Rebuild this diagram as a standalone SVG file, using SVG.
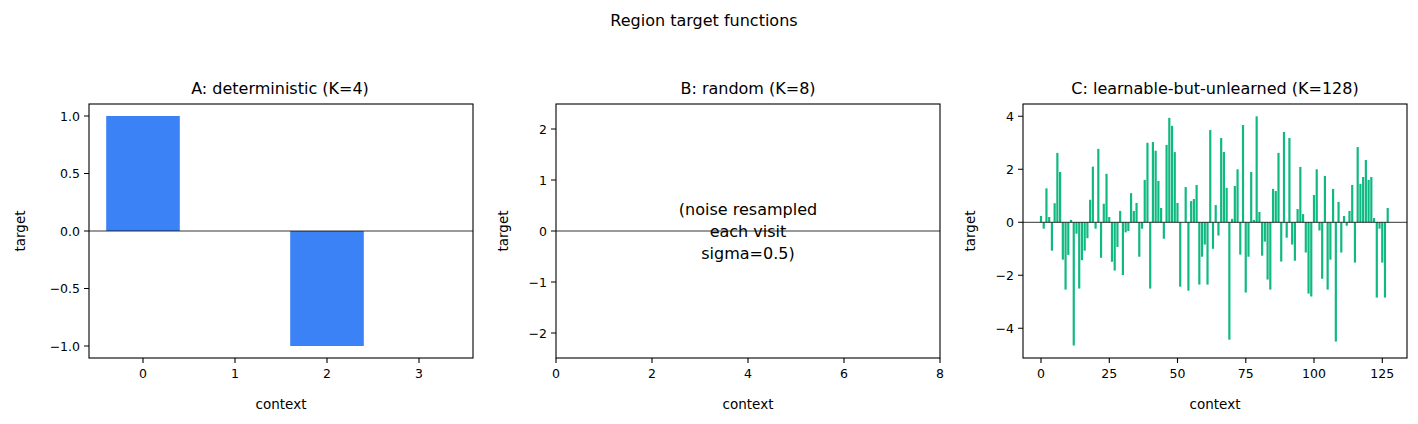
<svg xmlns="http://www.w3.org/2000/svg" width="1418" height="424" viewBox="0 0 1418 424">
<style>
text{font-family:"DejaVu Sans",sans-serif;fill:#000}
.t{font-size:16px;text-anchor:middle}
.k{font-size:12.5px}
.kx{text-anchor:middle}
.ky{text-anchor:end}
.l{font-size:13.5px;text-anchor:middle}
.ax{fill:none;stroke:#000;stroke-width:1.1}
.tk{stroke:#000;stroke-width:1.1}
.z{stroke:#000;stroke-width:0.8}
.a{fill:#3b82f6}
.c rect{fill:#10b981}
</style>
<rect width="1418" height="424" fill="#fff"/>
<text class="t" x="704" y="26">Region target functions</text>

<g id="panelA">
<text class="t" x="280" y="94">A: deterministic (K=4)</text>
<rect class="a" x="106.2" y="116" width="73.6" height="115"/>
<rect class="a" x="290.2" y="231" width="73.6" height="115"/>
<line class="z" x1="89" y1="231" x2="473" y2="231"/>
<rect class="ax" x="89" y="104" width="384" height="254"/>
<g class="tk"><path d="M143 358v5M235 358v5M327 358v5M419 358v5M89 116h-5M89 173.5h-5M89 231h-5M89 288.5h-5M89 346h-5"/></g>
<g class="k kx"><text x="143" y="378">0</text><text x="235" y="378">1</text><text x="327" y="378">2</text><text x="419" y="378">3</text></g>
<g class="k ky"><text x="80" y="120.5">1.0</text><text x="80" y="178">0.5</text><text x="80" y="235.5">0.0</text><text x="80" y="293">−0.5</text><text x="80" y="350.5">−1.0</text></g>
<text class="l" x="281" y="409">context</text>
<text class="l" transform="translate(25,231) rotate(-90)">target</text>
</g>

<g id="panelB">
<text class="t" x="748" y="94">B: random (K=8)</text>
<line class="z" x1="556" y1="231" x2="940" y2="231"/>
<rect class="ax" x="556" y="104" width="384" height="254"/>
<g class="tk"><path d="M556 358v5M652 358v5M748 358v5M844 358v5M940 358v5M556 129h-5M556 180h-5M556 231h-5M556 282h-5M556 333h-5"/></g>
<g class="k kx"><text x="556" y="378">0</text><text x="652" y="378">2</text><text x="748" y="378">4</text><text x="844" y="378">6</text><text x="940" y="378">8</text></g>
<g class="k ky"><text x="547" y="133.5">2</text><text x="547" y="184.5">1</text><text x="547" y="235.5">0</text><text x="547" y="286.5">−1</text><text x="547" y="337.5">−2</text></g>
<g class="t"><text x="748" y="215">(noise resampled</text><text x="748" y="237">each visit</text><text x="748" y="259">sigma=0.5)</text></g>
<text class="l" x="748" y="409">context</text>
<text class="l" transform="translate(508,231) rotate(-90)">target</text>
</g>

<g id="panelC">
<text class="t" x="1215" y="94">C: learnable-but-unlearned (K=128)</text>
<g class="c" transform="translate(1039.9,222.3) scale(2.73,-26.5)">
<rect x="0" y="0" width="0.8" height="0.24"/><rect x="1" y="-0.24" width="0.8" height="0.24"/><rect x="2" y="0" width="0.8" height="1.28"/><rect x="3" y="0" width="0.8" height="0.2"/><rect x="4" y="-1.07" width="0.8" height="1.07"/><rect x="5" y="0" width="0.8" height="0.72"/><rect x="6" y="0" width="0.8" height="2.62"/><rect x="7" y="0" width="0.8" height="1.9"/><rect x="8" y="-1.41" width="0.8" height="1.41"/><rect x="9" y="-2.54" width="0.8" height="2.54"/>
<rect x="10" y="-1.23" width="0.8" height="1.23"/><rect x="11" y="0" width="0.8" height="0.09"/><rect x="12" y="-4.65" width="0.8" height="4.65"/><rect x="13" y="-0.43" width="0.8" height="0.43"/><rect x="14" y="-2.5" width="0.8" height="2.5"/><rect x="15" y="-1.43" width="0.8" height="1.43"/><rect x="16" y="-1.07" width="0.8" height="1.07"/><rect x="17" y="-0.6" width="0.8" height="0.6"/><rect x="18" y="0" width="0.8" height="0.85"/><rect x="19" y="0" width="0.8" height="2.1"/>
<rect x="20" y="-0.24" width="0.8" height="0.24"/><rect x="21" y="0" width="0.8" height="2.77"/><rect x="22" y="-1.34" width="0.8" height="1.34"/><rect x="23" y="0" width="0.8" height="0.7"/><rect x="24" y="0" width="0.8" height="1.83"/><rect x="25" y="0" width="0.8" height="0.2"/><rect x="26" y="-1.49" width="0.8" height="1.49"/><rect x="27" y="-1.82" width="0.8" height="1.82"/><rect x="28" y="-0.93" width="0.8" height="0.93"/><rect x="29" y="0" width="0.8" height="0.43"/>
<rect x="30" y="-1.99" width="0.8" height="1.99"/><rect x="31" y="-0.38" width="0.8" height="0.38"/><rect x="32" y="-0.33" width="0.8" height="0.33"/><rect x="33" y="0" width="0.8" height="1.1"/><rect x="34" y="0" width="0.8" height="0.43"/><rect x="35" y="0" width="0.8" height="0.73"/><rect x="36" y="-1.3" width="0.8" height="1.3"/><rect x="37" y="-0.24" width="0.8" height="0.24"/><rect x="38" y="0" width="0.8" height="1.6"/><rect x="39" y="0" width="0.8" height="3.0"/>
<rect x="40" y="-2.5" width="0.8" height="2.5"/><rect x="41" y="0" width="0.8" height="3.03"/><rect x="42" y="0" width="0.8" height="2.7"/><rect x="43" y="0" width="0.8" height="1.56"/><rect x="44" y="0" width="0.8" height="0.54"/><rect x="45" y="-0.62" width="0.8" height="0.62"/><rect x="46" y="0" width="0.8" height="2.92"/><rect x="47" y="0" width="0.8" height="3.94"/><rect x="48" y="0" width="0.8" height="3.64"/><rect x="49" y="0" width="0.8" height="2.65"/>
<rect x="50" y="0" width="0.8" height="0.73"/><rect x="51" y="-2.43" width="0.8" height="2.43"/><rect x="53" y="0" width="0.8" height="1.33"/><rect x="54" y="-2.58" width="0.8" height="2.58"/><rect x="55" y="0" width="0.8" height="0.8"/><rect x="56" y="0" width="0.8" height="0.88"/><rect x="57" y="0" width="0.8" height="1.41"/><rect x="58" y="-2.35" width="0.8" height="2.35"/><rect x="59" y="-1.3" width="0.8" height="1.3"/>
<rect x="60" y="-0.84" width="0.8" height="0.84"/><rect x="61" y="-2.35" width="0.8" height="2.35"/><rect x="62" y="0" width="0.8" height="3.48"/><rect x="63" y="-1.0" width="0.8" height="1.0"/><rect x="64" y="0" width="0.8" height="0.65"/><rect x="65" y="-0.5" width="0.8" height="0.5"/><rect x="66" y="0" width="0.8" height="3.18"/><rect x="67" y="0" width="0.8" height="2.65"/><rect x="68" y="0" width="0.8" height="1.3"/><rect x="69" y="-4.43" width="0.8" height="4.43"/>
<rect x="70" y="0" width="0.8" height="0.13"/><rect x="71" y="0" width="0.8" height="1.37"/><rect x="72" y="0" width="0.8" height="2.0"/><rect x="73" y="-1.22" width="0.8" height="1.22"/><rect x="74" y="0" width="0.8" height="3.67"/><rect x="75" y="-2.65" width="0.8" height="2.65"/><rect x="76" y="-1.3" width="0.8" height="1.3"/><rect x="77" y="0" width="0.8" height="1.9"/><rect x="78" y="0" width="0.8" height="0.09"/><rect x="79" y="0" width="0.8" height="4.0"/>
<rect x="80" y="0" width="0.8" height="0.39"/><rect x="81" y="-1.26" width="0.8" height="1.26"/><rect x="82" y="-0.73" width="0.8" height="0.73"/><rect x="83" y="-2.16" width="0.8" height="2.16"/><rect x="84" y="-2.54" width="0.8" height="2.54"/><rect x="85" y="0" width="0.8" height="1.26"/><rect x="86" y="0" width="0.8" height="1.18"/><rect x="87" y="0" width="0.8" height="2.62"/><rect x="88" y="-1.48" width="0.8" height="1.48"/><rect x="89" y="0" width="0.8" height="3.41"/>
<rect x="90" y="-0.58" width="0.8" height="0.58"/><rect x="91" y="0" width="0.8" height="3.18"/><rect x="92" y="-0.84" width="0.8" height="0.84"/><rect x="93" y="-1.45" width="0.8" height="1.45"/><rect x="94" y="0" width="0.8" height="0.5"/><rect x="95" y="0" width="0.8" height="2.09"/><rect x="96" y="0" width="0.8" height="0.31"/><rect x="97" y="-1.14" width="0.8" height="1.14"/><rect x="98" y="-2.69" width="0.8" height="2.69"/><rect x="99" y="-2.8" width="0.8" height="2.8"/>
<rect x="100" y="0" width="0.8" height="1.03"/><rect x="101" y="0" width="0.8" height="2.0"/><rect x="102" y="-0.31" width="0.8" height="0.31"/><rect x="103" y="-2.13" width="0.8" height="2.13"/><rect x="104" y="0" width="0.8" height="1.75"/><rect x="105" y="-2.54" width="0.8" height="2.54"/><rect x="106" y="-1.41" width="0.8" height="1.41"/><rect x="107" y="0" width="0.8" height="1.26"/><rect x="108" y="-4.5" width="0.8" height="4.5"/><rect x="109" y="0" width="0.8" height="0.77"/>
<rect x="110" y="-1.14" width="0.8" height="1.14"/><rect x="111" y="0" width="0.8" height="0.24"/><rect x="112" y="-0.13" width="0.8" height="0.13"/><rect x="113" y="0" width="0.8" height="0.43"/><rect x="114" y="0" width="0.8" height="1.41"/><rect x="115" y="-1.52" width="0.8" height="1.52"/><rect x="116" y="0" width="0.8" height="2.84"/><rect x="117" y="0" width="0.8" height="1.45"/><rect x="118" y="0" width="0.8" height="1.71"/><rect x="119" y="0" width="0.8" height="2.35"/>
<rect x="120" y="0" width="0.8" height="1.6"/><rect x="121" y="0" width="0.8" height="1.71"/><rect x="122" y="0" width="0.8" height="0.16"/><rect x="123" y="-2.84" width="0.8" height="2.84"/><rect x="124" y="-0.24" width="0.8" height="0.24"/><rect x="125" y="-1.52" width="0.8" height="1.52"/><rect x="126" y="-2.84" width="0.8" height="2.84"/><rect x="127" y="0" width="0.8" height="0.54"/>
</g>
<line class="z" x1="1023" y1="222.3" x2="1407" y2="222.3"/>
<rect class="ax" x="1023" y="104" width="384" height="254"/>
<g class="tk"><path d="M1041 358v5M1109.3 358v5M1177.5 358v5M1245.8 358v5M1314 358v5M1382.3 358v5M1023 116.3h-5M1023 169.3h-5M1023 222.3h-5M1023 275.3h-5M1023 328.3h-5"/></g>
<g class="k kx"><text x="1041" y="378">0</text><text x="1109.3" y="378">25</text><text x="1177.5" y="378">50</text><text x="1245.8" y="378">75</text><text x="1314" y="378">100</text><text x="1382.3" y="378">125</text></g>
<g class="k ky"><text x="1014" y="120.8">4</text><text x="1014" y="173.8">2</text><text x="1014" y="226.8">0</text><text x="1014" y="279.8">−2</text><text x="1014" y="332.8">−4</text></g>
<text class="l" x="1215" y="409">context</text>
<text class="l" transform="translate(975,231) rotate(-90)">target</text>
</g>
</svg>
